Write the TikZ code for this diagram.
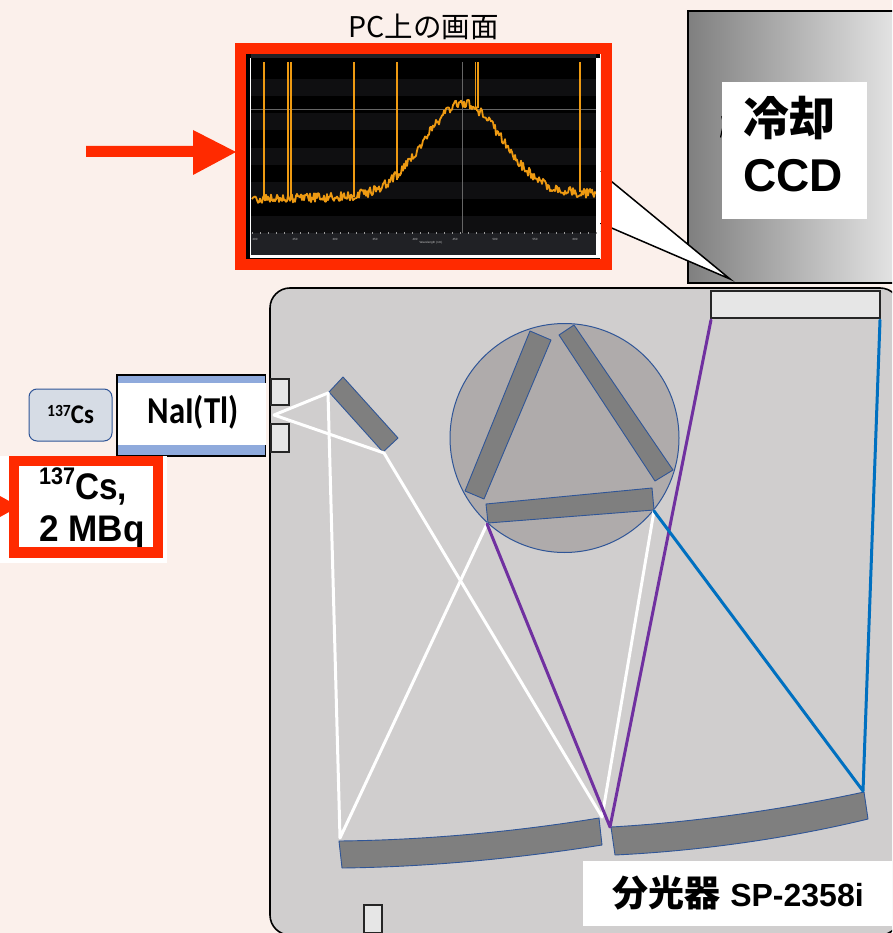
\documentclass[tikz,border=0pt]{standalone}
\usepackage{fontspec}
\setmainfont{Liberation Sans}
\newfontfamily\cjk{Noto Sans CJK JP}
\newcommand{\cjkb}{\cjk\bfseries}
\newfontfamily\carl{Carlito}
\definecolor{bgc}{HTML}{FBF0EB}
\definecolor{redc}{HTML}{FF2A00}
\definecolor{bodyc}{HTML}{D0CECE}
\definecolor{spherec}{HTML}{AFABAB}
\definecolor{optc}{HTML}{7F7F7F}
\definecolor{edgec}{HTML}{2F5597}
\definecolor{lightc}{HTML}{E6E6E6}
\definecolor{bandc}{HTML}{8FAADC}
\definecolor{purc}{HTML}{7030A0}
\definecolor{bluc}{HTML}{0070C0}
\definecolor{orc}{HTML}{EE9A12}
\definecolor{csc}{HTML}{D6DCE5}
\definecolor{stripec}{HTML}{0F0F11}
\definecolor{axisc}{HTML}{202125}
\tikzset{
  optic/.style={fill=optc,draw=edgec,line width=0.9pt,line join=round},
  port/.style={fill=lightc,draw=black!85,line width=1.1pt},
  beam/.style={line width=3pt,line cap=round,line join=round},
  whitelabel/.style={fill=white,inner sep=0pt,draw=none},
  spike/.style={draw=orc,line width=1.7pt},
  tinytxt/.style={text=white!75!black,font=\fontsize{3}{3}\selectfont,inner sep=0pt}
}
\begin{document}
\begin{tikzpicture}[x=1pt,y=-1pt]
\useasboundingbox (0,0) rectangle (892,933);
\clip (0,0) rectangle (892,933);
\fill[bgc] (0,0) rectangle (892,933);

% CCD
\shade[left color=black!50,right color=lightc] (688,11) rectangle (900,283);
\draw[black,line width=1.6pt] (900,11) -- (688,11) -- (688,283) -- (900,283);
\fill[black] (721,116) -- (723,118) -- (722,120) -- cycle;
\fill[black] (722,128) -- (723,129) -- (721,138) -- (720,137) -- cycle;
\node[whitelabel,minimum width=145pt,minimum height=137pt] (ccdlab) at (794.5,150.5) {};
\node[inner sep=0pt,anchor=base west] (ccda) at (743,136) {\fontsize{46}{50}\selectfont\cjkb 冷却};
\node[inner sep=0pt,anchor=base west] (ccdb) at (743,192) {\fontsize{46}{50}\selectfont\bfseries CCD};

% callout
\coordinate (tip) at (730,279);
\coordinate (ca) at (600,172);
\coordinate (cb) at (600,223);
\fill[white] (ca) -- (tip) -- (cb) -- cycle;
\draw[black,line width=1.5pt,line join=miter] (ca) -- (tip) -- (cb);

% screen
\fill[black] (246,54) rectangle (600,259);
\fill[white] (250,58) rectangle (600,258);
\fill[black] (251,54) rectangle (596,233);
\fill[axisc] (251,54) rectangle (596,58);
\foreach \yy in {79,113,148,182,216}{\fill[stripec] (251,\yy) rectangle (596,\yy+17);}
\fill[axisc] (251,233) rectangle (596,255);
\foreach \tx in {252,260,...,596}{\draw[white!60!black,line width=0.3pt] (\tx,232) -- (\tx,234);}
\foreach \tx/\tl in {255/200,295/250,335/300,375/350,415/400,455/450,495/500,535/550,575/600}{\node[tinytxt] (t\tl) at (\tx,239) {\tl};}
\node[tinytxt] (wl) at (431,243) {Wavelength (nm)};
\draw[white!40!black,line width=0.8pt] (251,109) -- (596,109);
\draw[white!40!black,line width=0.6pt] (462,62) -- (462,233);
\pgfmathsetseed{11}
\foreach \sx/\sy in {264/198,288/198,291/198,354/197,397/180,475.6/108,478/108,580/192}{\draw[spike] (\sx,62) -- (\sx,\sy);}
\draw[orc,line width=1.8pt,line join=round] plot[domain=252:596,samples=345] (\x,{199-0.016*(\x-252)-92*exp(-0.5*(((\x-463)/39)^2))+rand*4.8});
\fill[white] (596,172) rectangle (601,223);
\draw[redc,line width=11pt] (240.5,48.5) rectangle (606.5,264.5);

% title
\node[inner sep=0pt] (title) at (423.5,27) {\fontsize{28.5}{32}\selectfont\cjk PC上の画面};

% arrow
\fill[redc] (86,146) -- (193,146) -- (193,130) -- (236,152) -- (193,175) -- (193,157) -- (86,157) -- cycle;

% spectrometer body
\draw[fill=bodyc,draw=black,line width=1.6pt,rounded corners=20pt] (270,288) rectangle (900,935);
\node[port,minimum width=169pt,minimum height=27pt,inner sep=0pt] (det) at (795.5,304.5) {};
\node[port,minimum width=18pt,minimum height=26pt,inner sep=0pt] (slita) at (280,392) {};
\node[port,minimum width=18pt,minimum height=28pt,inner sep=0pt] (slitb) at (280,438) {};
\node[port,minimum width=18pt,minimum height=28pt,inner sep=0pt] (slitc) at (373,919) {};

% sphere
\node[circle,fill=spherec,draw=edgec,line width=1pt,minimum size=229pt,inner sep=0pt] (turret) at (564.5,438) {};
\draw[optic] (530,331) -- (551,340) -- (484,499) -- (465,491) -- cycle;
\draw[optic] (559,335) -- (574,325) -- (673,470) -- (655,481) -- cycle;
\draw[optic] (486,504) -- (652,488) -- (654,510) -- (488,523) -- cycle;
\draw[optic] (343,377) -- (398,438) -- (383,452) -- (329,392) -- cycle;
\draw[optic] (339,841) .. controls (430,840) and (520,831) .. (599,818) -- (602,845) .. controls (520,858) and (430,867) .. (342,868) -- cycle;
\draw[optic] (611,827) .. controls (700,822) and (790,808) .. (864,792) -- (868,819) .. controls (790,838) and (700,851) .. (615,855) -- cycle;

% beams
\coordinate (src) at (274,415);
\coordinate (ma) at (328,393);
\coordinate (mb) at (384,453);
\coordinate (la) at (340,838);
\coordinate (lb) at (602,817);
\coordinate (ga) at (487,524);
\coordinate (gb) at (654,511);
\coordinate (ra) at (610,827);
\coordinate (rb) at (863,791);
\coordinate (da) at (711,320);
\coordinate (db) at (880,320);
\draw[beam,white] (ma) -- (src) -- (mb) -- (lb);
\draw[beam,white] (ma) -- (la) -- (ga);
\draw[beam,white] (lb) -- (gb);
\draw[beam,purc] (ga) -- (ra) -- (da);
\draw[beam,bluc] (gb) -- (rb) -- (db);

% NaI
\fill[white] (117,375) rectangle (265.5,456);
\fill[bandc] (117,375) rectangle (265.5,383);
\fill[bandc] (117,445) rectangle (265.5,456);
\draw[black,line width=1.6pt] (265.5,383) -- (265.5,375) -- (117,375) -- (117,456) -- (265.5,456) -- (265.5,445);
\node[inner sep=0pt] (nai) at (193,412) {\scalebox{0.86}[1]{\fontsize{38}{40}\selectfont\carl\bfseries NaI(Tl)}};

% Cs source
\node[rounded corners=8pt,fill=csc,draw=edgec,line width=1pt,minimum width=83pt,minimum height=52pt,inner sep=0pt] (cs) at (70.5,415) {\scalebox{0.92}[1]{\carl\bfseries\fontsize{27}{28}\selectfont\raisebox{7pt}{\fontsize{17}{17}\selectfont 137}Cs}};

% red Cs box
\fill[white] (0,456) rectangle (167,563);
\node[anchor=base west,inner sep=0pt] (csa) at (39,499) {\scalebox{0.9}[1]{\fontsize{37}{40}\selectfont\bfseries\raisebox{15pt}{\fontsize{24}{24}\selectfont 137}Cs,}};
\node[anchor=base west,inner sep=0pt] (csb) at (39,541.5) {\scalebox{0.95}[1]{\fontsize{37}{40}\selectfont\bfseries 2 MBq}};
\draw[redc,line width=10.5pt] (14,461) rectangle (158,552.5);
\fill[redc] (0,496) -- (19,506.5) -- (0,517) -- cycle;

% label
\node[whitelabel,minimum width=309pt,minimum height=65pt] (splab) at (737.5,893.5) {};
\node[inner sep=0pt] (sptxt) at (738,893) {{\fontsize{36}{38}\selectfont\cjkb 分光器}\hspace{10pt}{\fontsize{32}{34}\selectfont\bfseries SP-2358i}};
\end{tikzpicture}
\end{document}
